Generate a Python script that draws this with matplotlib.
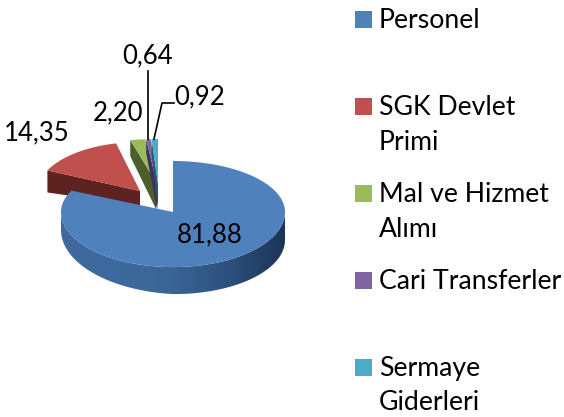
import numpy as np
import matplotlib
matplotlib.use("Agg")
import matplotlib.pyplot as plt
from matplotlib.colors import LinearSegmentedColormap
from matplotlib.patches import Polygon, Rectangle

plt.rcParams['font.family'] = ['Lato', 'DejaVu Sans']

# data
names = ["Personel", "SGK Devlet\nPrimi", "Mal ve Hizmet\nAlımı", "Cari Transferler", "Sermaye\nGiderleri"]
values = [81.88, 14.35, 2.20, 0.64, 0.92]
top_colors = ["#4F81BD", "#C0504D", "#9BBB59", "#8064A2", "#4BACC6"]
side_colors = ["#2F4F78", "#5E2321", "#4A5F2A", "#3F3060", "#23596B"]

# where each slice sits on the canvas, in pixels (apex x, apex y, rx, ry, far depth, near depth)
apex_x = [173, 140, 156, 157, 158]
apex_y = [212, 191, 182, 184, 184]
radius_x = [112, 102, 110, 110, 110]
radius_y = [51, 49, 43, 45, 45]
depth_far = [0, 22, 16, 14, 14]
depth_near = [0, 15, 27, 26, 26]

label_x = [210, 37, 118, 148, 200]
label_y = [235, 133, 113, 56, 97]

fig = plt.figure(figsize=(5.64, 4.17), dpi=100)
ax = fig.add_axes([0, 0, 1, 1])

ends = np.cumsum(values) / np.sum(values) * 360
starts = np.concatenate(([0], ends[:-1]))


def rim(i, deg):
    # point on the top rim of slice i, angle is clockwise from 12 o'clock
    t = np.radians(deg)
    c = np.cos(t)
    ry = np.where(c > 0, radius_y[i], radius_y[i] * 1.08)
    return apex_x[i] + radius_x[i] * np.sin(t), apex_y[i] - ry * c


# exploded slices first, blue goes over them
for i in range(1, 5):
    arc = np.linspace(starts[i], ends[i], 30)
    xs, ys = rim(i, arc)
    ax_pts = list(zip(xs, ys)) + [(apex_x[i], apex_y[i])]
    # the cut face on the left side of the slice
    side = [(xs[0], ys[0]), (apex_x[i], apex_y[i]),
            (apex_x[i], apex_y[i] + depth_near[i]), (xs[0], ys[0] + depth_far[i])]
    ax.add_patch(Polygon(side, closed=True, fc=side_colors[i], ec="none", zorder=2 + i))
    ax.add_patch(Polygon(ax_pts, closed=True, fc=top_colors[i], ec="none", zorder=2 + i))

# blue wall with horizontal shading
arc = np.linspace(90, 270, 120)
xs, ys = rim(0, arc)
d = np.interp(arc, [90, 180, 270], [28, 27, 18])
wall = Polygon(list(zip(xs, ys)) + list(zip(xs[::-1], (ys + d)[::-1])), closed=True,
               transform=ax.transData, fc="none", ec="none")
ax.add_patch(wall)
shade = LinearSegmentedColormap.from_list("shade", ["#40689F", "#3D6A9E", "#3A6595", "#2D507E", "#1B3557"])
img = ax.imshow(np.linspace(0, 1, 256).reshape(1, -1), cmap=shade, aspect="auto",
                extent=(60, 285, 300, 200), zorder=8)
img.set_clip_path(wall)

arc = np.linspace(starts[0], ends[0], 200)
xs, ys = rim(0, arc)
ax.add_patch(Polygon(list(zip(xs, ys)) + [(apex_x[0], apex_y[0])], closed=True,
                     fc=top_colors[0], ec="none", zorder=9))

# value labels
for v, x, y in zip(values, label_x, label_y):
    ax.text(x, y, f"{v:.2f}".replace(".", ","), fontsize=18.5, color="black",
            ha="center", va="center", zorder=12)

# leader lines
ax.plot([148, 148], [71, 139], color="black", lw=1.2, zorder=11)
ax.plot([174, 162, 154], [103, 103, 139], color="black", lw=1.2, zorder=11)

# legend
row_h = 87
for i, name in enumerate(names):
    ax.add_patch(Rectangle((355, 11 + i * row_h), 17, 17, fc=top_colors[i], ec="none"))
    for j, line in enumerate(name.split("\n")):
        ax.text(379, 28 + i * row_h + j * 34.5, line, fontsize=19.2, color="black",
                ha="left", va="baseline")

ax.set_xlim(0, 564)
ax.set_ylim(417, 0)
ax.axis("off")

fig.savefig("out.png", dpi=100)
